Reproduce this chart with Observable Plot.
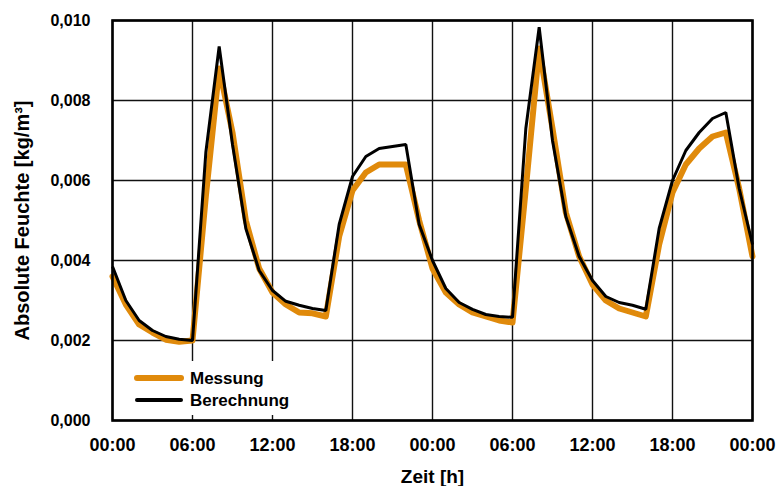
<!DOCTYPE html>
<html>
<head>
<meta charset="utf-8">
<script src="https://cdn.jsdelivr.net/npm/d3@7"></script>
<script src="https://cdn.jsdelivr.net/npm/@observablehq/plot@0.6"></script>
<style>
  html, body { margin: 0; padding: 0; background: #fff; }
  #chart svg { display: block; }
  g[aria-label="y-axis label"] text { font-size: 20px; }
  g[aria-label="x-axis label"] text { font-size: 19px; }
</style>
</head>
<body>
<div id="chart"></div>
<script>
// Hours since start (two days, hourly)
const hours = d3.range(0, 49);

// Messung (measurement), kg/m³
const messung = [
  0.0036, 0.0029, 0.0024, 0.0022, 0.00202, 0.00197, 0.0020,
  0.0056, 0.0088, 0.0072, 0.0050, 0.0038, 0.0032, 0.0029,
  0.0027, 0.00268, 0.0026, 0.0046, 0.00575, 0.0062, 0.0064,
  0.0064, 0.0064, 0.0050, 0.0038, 0.0032, 0.0029, 0.0027,
  0.0026, 0.0025, 0.00245, 0.0058, 0.0093, 0.0073, 0.0052,
  0.0041, 0.0034, 0.0030, 0.0028, 0.0027, 0.0026, 0.0044,
  0.0057, 0.0064, 0.0068, 0.0071, 0.0072, 0.0058, 0.0041
];

// Berechnung (calculation), kg/m³
const berechnung = [
  0.00385, 0.0030, 0.0025, 0.00225, 0.0021, 0.00203, 0.0020,
  0.0067, 0.00935, 0.0069, 0.0048, 0.00375, 0.00325, 0.00298,
  0.00288, 0.0028, 0.00275, 0.0049, 0.0061, 0.0066, 0.0068,
  0.00685, 0.0069, 0.0049, 0.0040, 0.0033, 0.00295, 0.00278,
  0.00265, 0.0026, 0.00258, 0.0073, 0.00983, 0.0070, 0.0051,
  0.0041, 0.0035, 0.0031, 0.00295, 0.00288, 0.00278, 0.0048,
  0.0060, 0.00675, 0.0072, 0.00755, 0.0077, 0.0058, 0.0044
];

const xTicks = [0, 6, 12, 18, 24, 30, 36, 42, 48];
const yTicks = [0, 0.002, 0.004, 0.006, 0.008, 0.010];

const seriesNames = ["Messung", "Berechnung"];
const seriesColors = ["#e08a0b", "#000000"];
const seriesWidths = [6, 3];

const mess = hours.map((h, i) => ({h, v: messung[i]}));
const ber = hours.map((h, i) => ({h, v: berechnung[i]}));

const fmtX = h => String(h % 24).padStart(2, "0") + ":00";
const fmtY = v => v.toFixed(3).replace(".", ",");

const FONT = "'Liberation Sans', Arial, Helvetica, sans-serif";

const chart = Plot.plot({
  width: 779,
  height: 486,
  marginLeft: 112,
  marginRight: 27,
  marginTop: 20,
  marginBottom: 66,
  style: { fontFamily: FONT, fontWeight: "bold", color: "#000", background: "#fff" },
  x: { domain: [0, 48] },
  y: { domain: [0, 0.01] },
  marks: [
    Plot.gridX(xTicks, { stroke: "#111", strokeOpacity: 1, strokeWidth: 1.4 }),
    Plot.gridY(yTicks, { stroke: "#111", strokeOpacity: 1, strokeWidth: 1.4 }),
    Plot.line(mess, { x: "h", y: "v", stroke: seriesColors[0], strokeWidth: seriesWidths[0], strokeLinejoin: "round", strokeLinecap: "round" }),
    Plot.line(ber, { x: "h", y: "v", stroke: seriesColors[1], strokeWidth: seriesWidths[1], strokeLinejoin: "miter", strokeLinecap: "butt" }),
    Plot.axisX(xTicks, { tickFormat: fmtX, tickSize: 0, tickPadding: 18, fontSize: 18, label: "Zeit [h]", labelAnchor: "center", labelOffset: 62, labelArrow: false }),
    Plot.axisY(yTicks, { tickFormat: fmtY, tickSize: 0, tickPadding: 22, fontSize: 16, label: "Absolute Feuchte [kg/m³]", labelAnchor: "center", labelOffset: 98, labelArrow: false }),
    Plot.frame({ stroke: "#000", strokeWidth: 2.6 })
  ]
});

document.getElementById("chart").appendChild(chart);

// Legend inside the plot area (bottom-left), on a white panel
const svg = d3.select(chart.tagName.toLowerCase() === "svg" ? chart : chart.querySelector("svg"));
const lg = svg.append("g").attr("class", "legend").attr("text-anchor", "start");
lg.append("rect").attr("x", 114).attr("y", 361).attr("width", 190).attr("height", 54).attr("fill", "#fff");
seriesNames.forEach((name, i) => {
  const y = 378 + i * 22;
  lg.append("line").attr("x1", 137).attr("x2", 181).attr("y1", y).attr("y2", y)
    .attr("stroke", seriesColors[i]).attr("stroke-width", i === 0 ? 6 : 4).attr("stroke-linecap", "round");
  lg.append("text").attr("x", 190).attr("y", y).attr("dy", "0.36em")
    .attr("text-anchor", "start")
    .attr("font-family", FONT).attr("font-weight", "bold").attr("font-size", 17).attr("fill", "#000")
    .text(name);
});
</script>
</body>
</html>
